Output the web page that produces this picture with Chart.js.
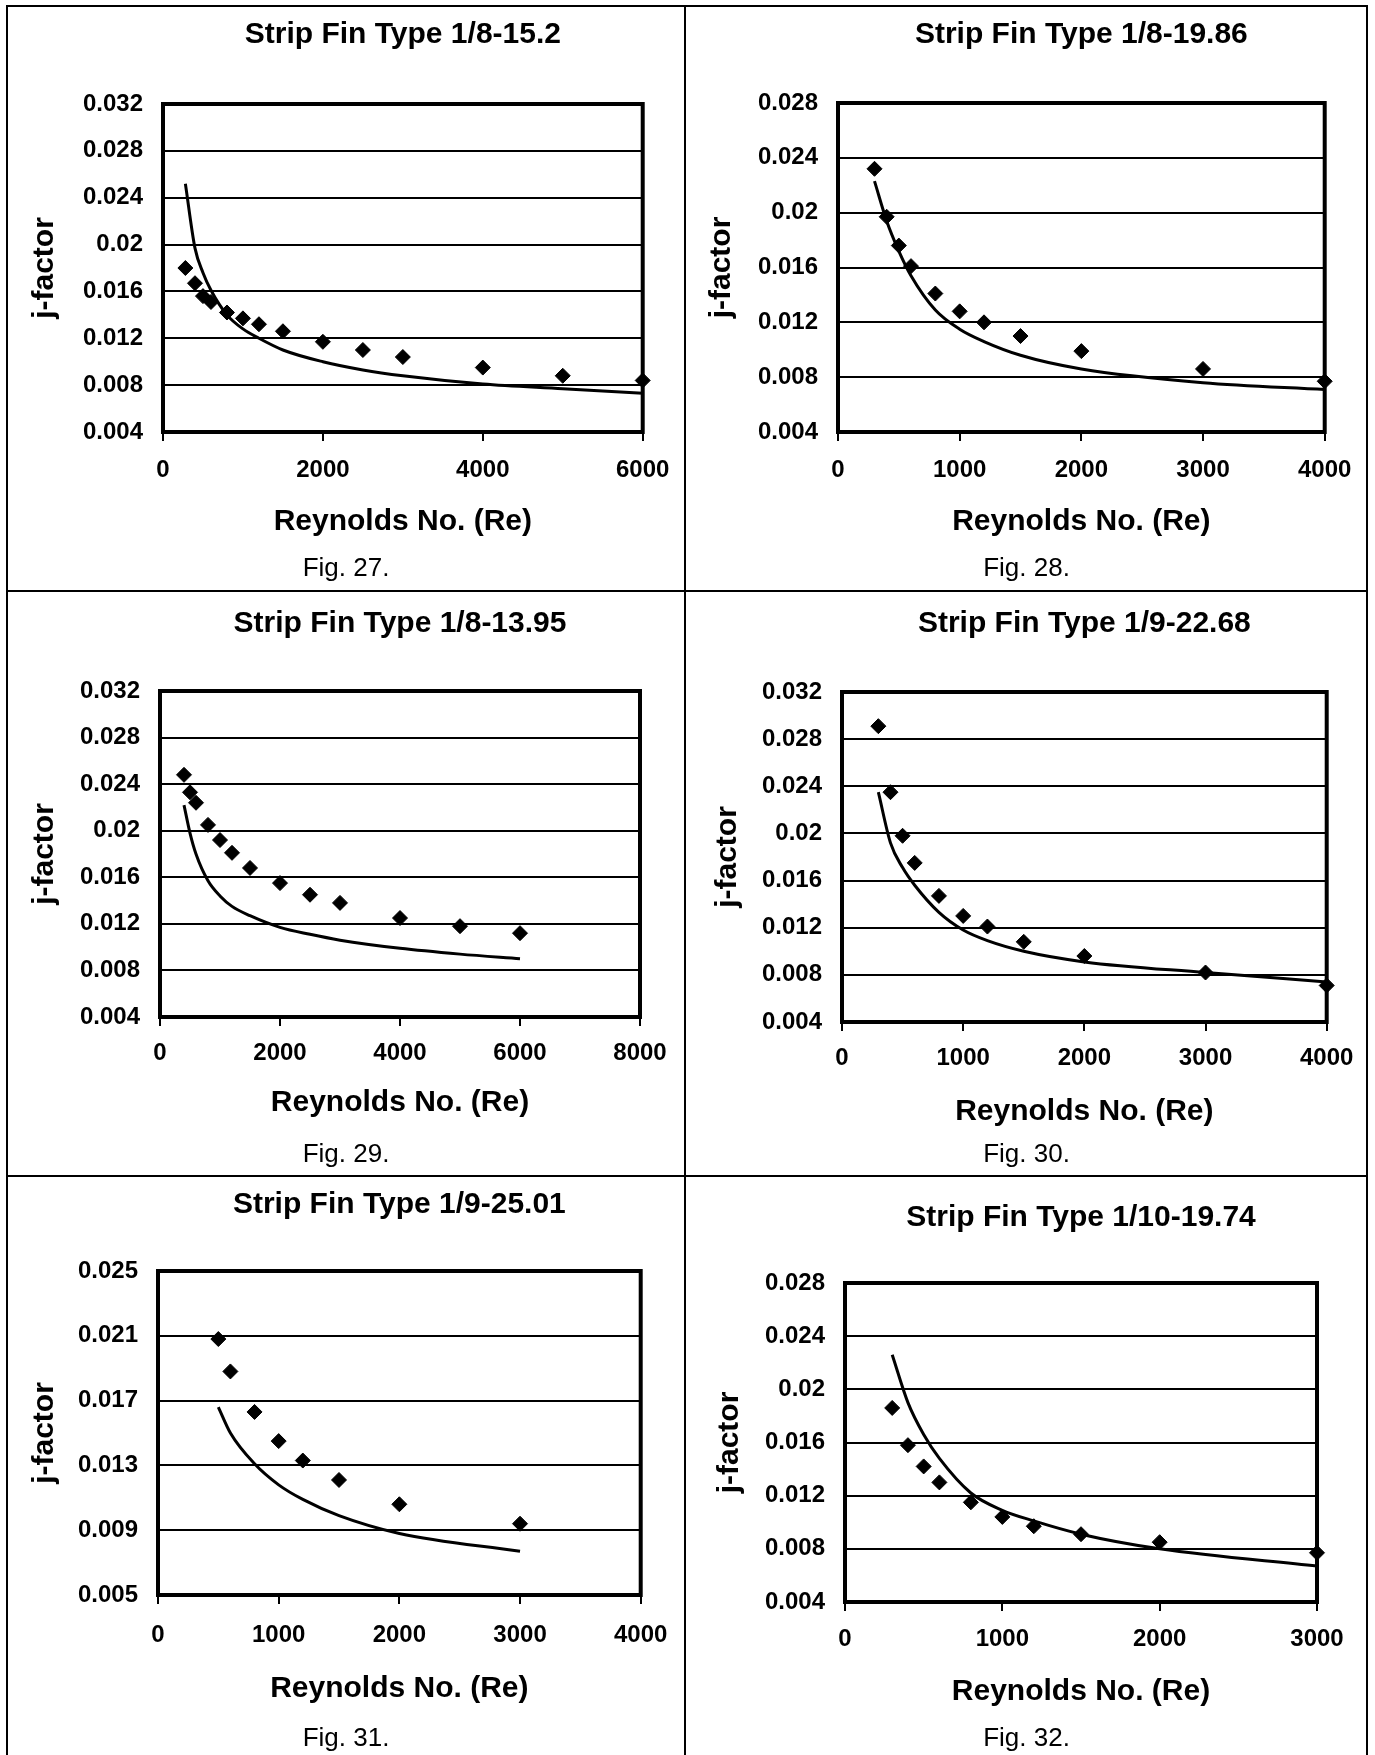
<!DOCTYPE html>
<html>
<head>
<meta charset="utf-8">
<title>Strip fin j-factor vs Reynolds number</title>
<script src="https://cdn.jsdelivr.net/npm/chart.js@4.4.1/dist/chart.umd.min.js"></script>
<style>
  html, body { margin: 0; padding: 0; background: #fff; }
  body { position: relative; width: 1375px; height: 1755px; overflow: hidden;
         font-family: 'Liberation Sans', Arial, Helvetica, sans-serif; color: #000; }
  .rule { position: absolute; background: #000; }
  canvas { position: absolute; }
  .caption { position: absolute; font-size: 26px; white-space: nowrap; transform: translate(-50%, -50%); }
</style>
</head>
<body>
<div class="rule" style="left:6px;top:5px;width:1362px;height:2px"></div>
<div class="rule" style="left:6px;top:590px;width:1362px;height:2px"></div>
<div class="rule" style="left:6px;top:1175px;width:1362px;height:2px"></div>
<div class="rule" style="left:6px;top:5px;width:2px;height:1760px"></div>
<div class="rule" style="left:684px;top:5px;width:2px;height:1760px"></div>
<div class="rule" style="left:1366px;top:5px;width:2px;height:1760px"></div>

<script>
'use strict';
Chart.defaults.font.family = "'Liberation Sans', Arial, Helvetica, sans-serif";
Chart.defaults.color = '#000';

// ---- data ----
// Fig. 27  Strip Fin Type 1/8-15.2
const RE_27      = [280, 400, 500, 600, 800, 1000, 1200, 1500, 2000, 2500, 3000, 4000, 5000, 6000];
const J_EXP_27   = [0.0180, 0.0167, 0.0156, 0.0151, 0.0142, 0.0137, 0.0132, 0.0126, 0.0117, 0.0110, 0.0104, 0.0095, 0.0088, 0.0084];
const J_CORR_27  = [0.0252, 0.0197, 0.0176, 0.0161, 0.0140, 0.0128, 0.0120, 0.0110, 0.0100, 0.0093, 0.0088, 0.0081, 0.0077, 0.0073];
const X_TICKS_27 = [0, 2000, 4000, 6000];
const Y_TICKS_27 = [0.004, 0.008, 0.012, 0.016, 0.02, 0.024, 0.028, 0.032];

// Fig. 28  Strip Fin Type 1/8-19.86
const RE_28      = [300, 400, 500, 600, 800, 1000, 1200, 1500, 2000, 3000, 4000];
const J_EXP_28   = [0.0232, 0.0197, 0.0176, 0.0161, 0.0141, 0.0128, 0.0120, 0.0110, 0.0099, 0.0086, 0.0077];
const J_CORR_28  = [0.0223, 0.0194, 0.0172, 0.0154, 0.0129, 0.0115, 0.0106, 0.0096, 0.0086, 0.0076, 0.0071];
const X_TICKS_28 = [0, 1000, 2000, 3000, 4000];
const Y_TICKS_28 = [0.004, 0.008, 0.012, 0.016, 0.02, 0.024, 0.028];

// Fig. 29  Strip Fin Type 1/8-13.95
const RE_29      = [400, 500, 600, 800, 1000, 1200, 1500, 2000, 2500, 3000, 4000, 5000, 6000];
const J_EXP_29   = [0.0248, 0.0233, 0.0224, 0.0205, 0.0192, 0.0181, 0.0168, 0.0155, 0.0145, 0.0138, 0.0125, 0.0118, 0.0112];
const J_CORR_29  = [0.0222, 0.0198, 0.0180, 0.0157, 0.0144, 0.0135, 0.0127, 0.0117, 0.0111, 0.0106, 0.0099, 0.0094, 0.0090];
const X_TICKS_29 = [0, 2000, 4000, 6000, 8000];
const Y_TICKS_29 = [0.004, 0.008, 0.012, 0.016, 0.02, 0.024, 0.028, 0.032];

// Fig. 30  Strip Fin Type 1/9-22.68
const RE_30      = [300, 400, 500, 600, 800, 1000, 1200, 1500, 2000, 3000, 4000];
const J_EXP_30   = [0.0291, 0.0235, 0.0198, 0.0175, 0.0147, 0.0130, 0.0121, 0.0108, 0.0096, 0.0082, 0.0071];
const J_CORR_30  = [0.0235, 0.0192, 0.0171, 0.0156, 0.0133, 0.0118, 0.0109, 0.0100, 0.0091, 0.0082, 0.0074];
const X_TICKS_30 = [0, 1000, 2000, 3000, 4000];
const Y_TICKS_30 = [0.004, 0.008, 0.012, 0.016, 0.02, 0.024, 0.028, 0.032];

// Fig. 31  Strip Fin Type 1/9-25.01
const RE_31      = [500, 600, 800, 1000, 1200, 1500, 2000, 3000];
const J_EXP_31   = [0.0208, 0.0188, 0.0163, 0.0145, 0.0133, 0.0121, 0.0106, 0.0094];
const J_CORR_31  = [0.0166, 0.0150, 0.0131, 0.0118, 0.0109, 0.0099, 0.0088, 0.0077];
const X_TICKS_31 = [0, 1000, 2000, 3000, 4000];
const Y_TICKS_31 = [0.005, 0.009, 0.013, 0.017, 0.021, 0.025];

// Fig. 32  Strip Fin Type 1/10-19.74
const RE_32      = [300, 400, 500, 600, 800, 1000, 1200, 1500, 2000, 3000];
const J_EXP_32   = [0.0186, 0.0158, 0.0142, 0.0130, 0.0115, 0.0104, 0.0097, 0.0091, 0.0085, 0.0077];
const J_CORR_32  = [0.0226, 0.0190, 0.0166, 0.0148, 0.0122, 0.0109, 0.0101, 0.0091, 0.0080, 0.0067];
const X_TICKS_32 = [0, 1000, 2000, 3000];
const Y_TICKS_32 = [0.004, 0.008, 0.012, 0.016, 0.02, 0.024, 0.028];

const X_LABEL = 'Reynolds No. (Re)';
const Y_LABEL = 'j-factor';

// ---- page layout (px in the 1375x1755 page) ----
// cell = [x, y, w, h] of the table cell; plot = [left, top, right, bottom] of the framed plot box
const PANELS = [
  { title: 'Strip Fin Type 1/8-15.2',   caption: 'Fig. 27.', re: RE_27, exp: J_EXP_27, corr: J_CORR_27, xTicks: X_TICKS_27, yTicks: Y_TICKS_27,
    cell: [8, 8, 676, 582],      plot: [163, 104, 650, 432],   titleY: 35,   yTitleX: 45,  tickY: 470,  xTitleY: 522,  captionY: 567 },
  { title: 'Strip Fin Type 1/8-19.86',  caption: 'Fig. 28.', re: RE_28, exp: J_EXP_28, corr: J_CORR_28, xTicks: X_TICKS_28, yTicks: Y_TICKS_28,
    cell: [687, 8, 679, 582],    plot: [838, 103, 1327, 432],  titleY: 35,   yTitleX: 722, tickY: 470,  xTitleY: 522,  captionY: 567 },
  { title: 'Strip Fin Type 1/8-13.95',  caption: 'Fig. 29.', re: RE_29, exp: J_EXP_29, corr: J_CORR_29, xTicks: X_TICKS_29, yTicks: Y_TICKS_29,
    cell: [8, 593, 676, 582],    plot: [160, 691, 640, 1017],  titleY: 624,  yTitleX: 45,  tickY: 1053, xTitleY: 1103, captionY: 1153 },
  { title: 'Strip Fin Type 1/9-22.68',  caption: 'Fig. 30.', re: RE_30, exp: J_EXP_30, corr: J_CORR_30, xTicks: X_TICKS_30, yTicks: Y_TICKS_30,
    cell: [687, 593, 679, 582],  plot: [842, 692, 1332, 1022], titleY: 624,  yTitleX: 728, tickY: 1058, xTitleY: 1112, captionY: 1153 },
  { title: 'Strip Fin Type 1/9-25.01',  caption: 'Fig. 31.', re: RE_31, exp: J_EXP_31, corr: J_CORR_31, xTicks: X_TICKS_31, yTicks: Y_TICKS_31,
    cell: [8, 1178, 676, 577],   plot: [158, 1271, 646, 1595], titleY: 1205, yTitleX: 45,  tickY: 1635, xTitleY: 1689, captionY: 1737 },
  { title: 'Strip Fin Type 1/10-19.74', caption: 'Fig. 32.', re: RE_32, exp: J_EXP_32, corr: J_CORR_32, xTicks: X_TICKS_32, yTicks: Y_TICKS_32,
    cell: [687, 1178, 679, 577], plot: [845, 1283, 1317, 1602], titleY: 1218, yTitleX: 730, tickY: 1639, xTitleY: 1692, captionY: 1737 },
];

const TITLE_PX = 30, AXIS_PX = 30, TICK_PX = 24, TICK_LEN = 9;

// thick box round the plot area, under the markers
const plotFrame = {
  id: 'plotFrame',
  beforeDatasetsDraw(chart) {
    const { ctx, chartArea: a } = chart;
    ctx.save();
    ctx.strokeStyle = '#000';
    ctx.lineWidth = 4;
    ctx.strokeRect(a.left, a.top, a.right - a.left, a.bottom - a.top);
    ctx.restore();
  },
};

function buildPanel(p) {
  const [cx, cy, cw, ch] = p.cell;
  const [pl, pt, pr, pb] = p.plot;

  const canvas = document.createElement('canvas');
  canvas.width = cw;
  canvas.height = ch;
  canvas.style.left = cx + 'px';
  canvas.style.top = cy + 'px';
  document.body.appendChild(canvas);

  const cap = document.createElement('div');
  cap.className = 'caption';
  cap.textContent = p.caption;
  cap.style.left = (cx + cw / 2) + 'px';
  cap.style.top = p.captionY + 'px';
  document.body.appendChild(cap);

  const titleTop = p.titleY - cy - TITLE_PX * 0.6;
  const titleBottom = (pt - cy) - TITLE_PX * 1.2 - titleTop;

  new Chart(canvas, {
    type: 'scatter',
    data: {
      datasets: [
        {
          label: 'Experimental',
          data: p.re.map((x, i) => ({ x, y: p.exp[i] })),
          pointStyle: 'rectRot',
          pointRadius: 7.5, pointHoverRadius: 7.5,
          backgroundColor: '#000', borderColor: '#000', borderWidth: 1,
          clip: false,
        },
        {
          label: 'Correlation',
          data: p.re.map((x, i) => ({ x, y: p.corr[i] })),
          showLine: true,
          pointRadius: 0,
          borderColor: '#000', borderWidth: 3,
          cubicInterpolationMode: 'monotone',
          clip: false,
        },
      ],
    },
    options: {
      responsive: false,
      animation: false,
      events: [],
      layout: { padding: { left: 0, top: 0, bottom: 0, right: cx + cw - pr } },
      plugins: {
        legend: { display: false },
        tooltip: { enabled: false },
        title: {
          display: true, text: p.title, fullSize: false, color: '#000',
          font: { size: TITLE_PX, weight: 'bold' },
          padding: { top: titleTop, bottom: titleBottom },
        },
      },
      scales: {
        x: {
          type: 'linear',
          min: p.xTicks[0], max: p.xTicks[p.xTicks.length - 1],
          afterBuildTicks: s => { s.ticks = p.xTicks.map(v => ({ value: v })); },
          afterFit: s => { s.height = cy + ch - pb; },
          border: { display: false },
          grid: { drawOnChartArea: false, drawTicks: true, tickLength: TICK_LEN, color: '#000', lineWidth: 2 },
          ticks: {
            autoSkip: false, maxRotation: 0,
            font: { size: TICK_PX, weight: 'bold' },
            padding: p.tickY - pb - TICK_LEN - TICK_PX * 0.6,
            callback: v => String(v),
          },
          title: {
            display: true, text: X_LABEL,
            font: { size: AXIS_PX, weight: 'bold' },
            padding: { top: 0, bottom: cy + ch - p.xTitleY - AXIS_PX * 0.6 },
          },
        },
        y: {
          type: 'linear',
          min: p.yTicks[0], max: p.yTicks[p.yTicks.length - 1],
          afterBuildTicks: s => { s.ticks = p.yTicks.map(v => ({ value: v })); },
          afterFit: s => { s.width = pl - cx; },
          border: { display: false },
          grid: { drawTicks: false, color: '#000', lineWidth: 2 },
          ticks: {
            font: { size: TICK_PX, weight: 'bold' },
            padding: 20,
            callback: v => String(v),
          },
          title: {
            display: true, text: Y_LABEL,
            font: { size: AXIS_PX, weight: 'bold' },
            padding: { top: p.yTitleX - cx - AXIS_PX * 0.6, bottom: 0 },
          },
        },
      },
    },
    plugins: [plotFrame],
  });
}

PANELS.forEach(buildPanel);
</script>
</body>
</html>
